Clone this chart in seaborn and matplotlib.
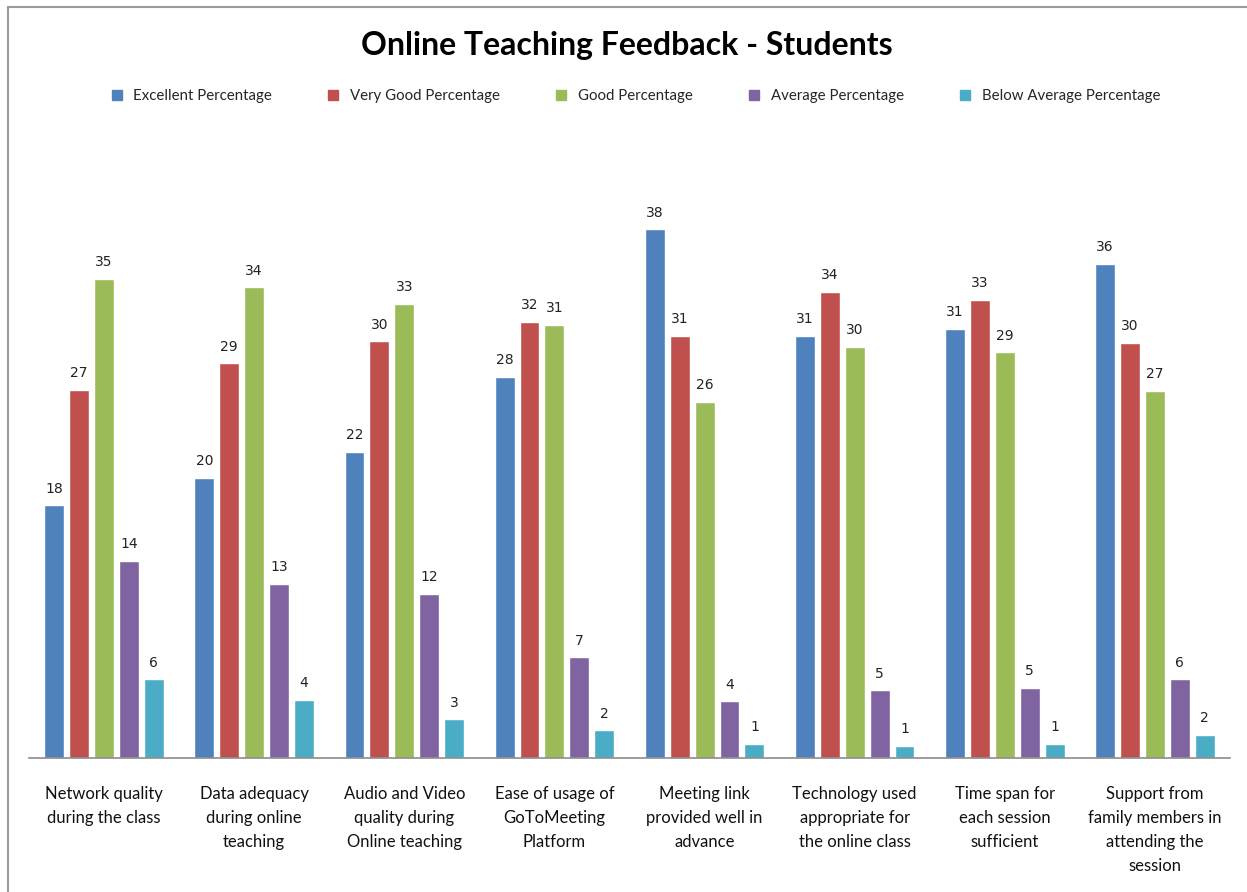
import matplotlib
matplotlib.use("Agg")
import matplotlib.pyplot as plt
import seaborn as sns
import pandas as pd
from matplotlib.lines import Line2D

categories = [
    "Network quality\nduring the class",
    "Data adequacy\nduring online\nteaching",
    "Audio and Video\nquality during\nOnline teaching",
    "Ease of usage of\nGoToMeeting\nPlatform",
    "Meeting link\nprovided well in\nadvance",
    "Technology used\nappropriate for\nthe online class",
    "Time span for\neach session\nsufficient",
    "Support from\nfamily members in\nattending the\nsession",
]
series_names = ["Excellent Percentage", "Very Good Percentage", "Good Percentage",
                "Average Percentage", "Below Average Percentage"]
excellent = [18.3, 20.3, 22.2, 27.6, 38.3, 30.6, 31.1, 35.8]
very_good = [26.7, 28.6, 30.2, 31.6, 30.6, 33.8, 33.2, 30.1]
good = [34.7, 34.1, 32.9, 31.4, 25.8, 29.8, 29.4, 26.6]
average = [14.3, 12.6, 11.9, 7.3, 4.1, 4.9, 5.1, 5.7]
below_average = [5.7, 4.2, 2.8, 2.0, 1.0, 0.9, 1.0, 1.7]
colors = ["#4F81BD", "#C0504D", "#9BBB59", "#8064A2", "#4BACC6"]

rows = []
for name, vals in zip(series_names, [excellent, very_good, good, average, below_average]):
    for c, v in zip(categories, vals):
        rows.append({"Category": c, "Series": name, "Value": v})
df = pd.DataFrame(rows)

sns.set_style("white")
FONT = ["Lato", "DejaVu Sans"]
fig = plt.figure(figsize=(12.47, 8.92), dpi=100)
ax = fig.add_axes([29 / 1247, 1 - 758 / 892, 1201 / 1247, 621 / 892])

sns.barplot(data=df, x="Category", y="Value", hue="Series", hue_order=series_names,
            order=categories, palette=colors, width=0.83, gap=0.2, ax=ax,
            legend=False, saturation=1, errorbar=None)

for cont in ax.containers:
    ax.bar_label(cont, labels=[f"{round(b.get_height())}" for b in cont],
                 padding=7, fontsize=10, color="#222222", family="DejaVu Sans")

ax.set_ylim(0, 45)
ax.set_xlim(-0.5, 7.5)
ax.set_xlabel("")
ax.set_ylabel("")
ax.set_yticks([])
ax.tick_params(axis="x", length=0, pad=20)
for lab in ax.get_xticklabels():
    lab.set_fontsize(12)
    lab.set_family(FONT)
    lab.set_linespacing(1.62)
    lab.set_color("#111111")
for s in ["top", "right", "left"]:
    ax.spines[s].set_visible(False)
ax.spines["bottom"].set_color("#8c8c8c")
ax.spines["bottom"].set_linewidth(1.2)

fig.text(0.503, 1 - 46 / 892, "Online Teaching Feedback - Students", ha="center", va="center",
         fontsize=23, fontweight="bold", family=FONT, color="black")

handles = [Line2D([0], [0], marker="s", linestyle="", markersize=6.5, markerfacecolor=c,
                  markeredgecolor=c) for c in colors]
fig.legend(handles, series_names, loc="center", bbox_to_anchor=(0.506, 1 - 96 / 892),
           ncol=5, frameon=False, handletextpad=0.1, columnspacing=3.1,
           prop={"family": FONT, "size": 10.8})

# chart-area border (left and top edges visible)
fig.add_artist(Line2D([8 / 1247, 8 / 1247], [0, 1 - 7 / 892], transform=fig.transFigure,
                      color="#9a9a9a", linewidth=1.5))
fig.add_artist(Line2D([8 / 1247, 1], [1 - 7 / 892, 1 - 7 / 892], transform=fig.transFigure,
                      color="#9a9a9a", linewidth=1.5))

fig.savefig("out.png", dpi=100)
